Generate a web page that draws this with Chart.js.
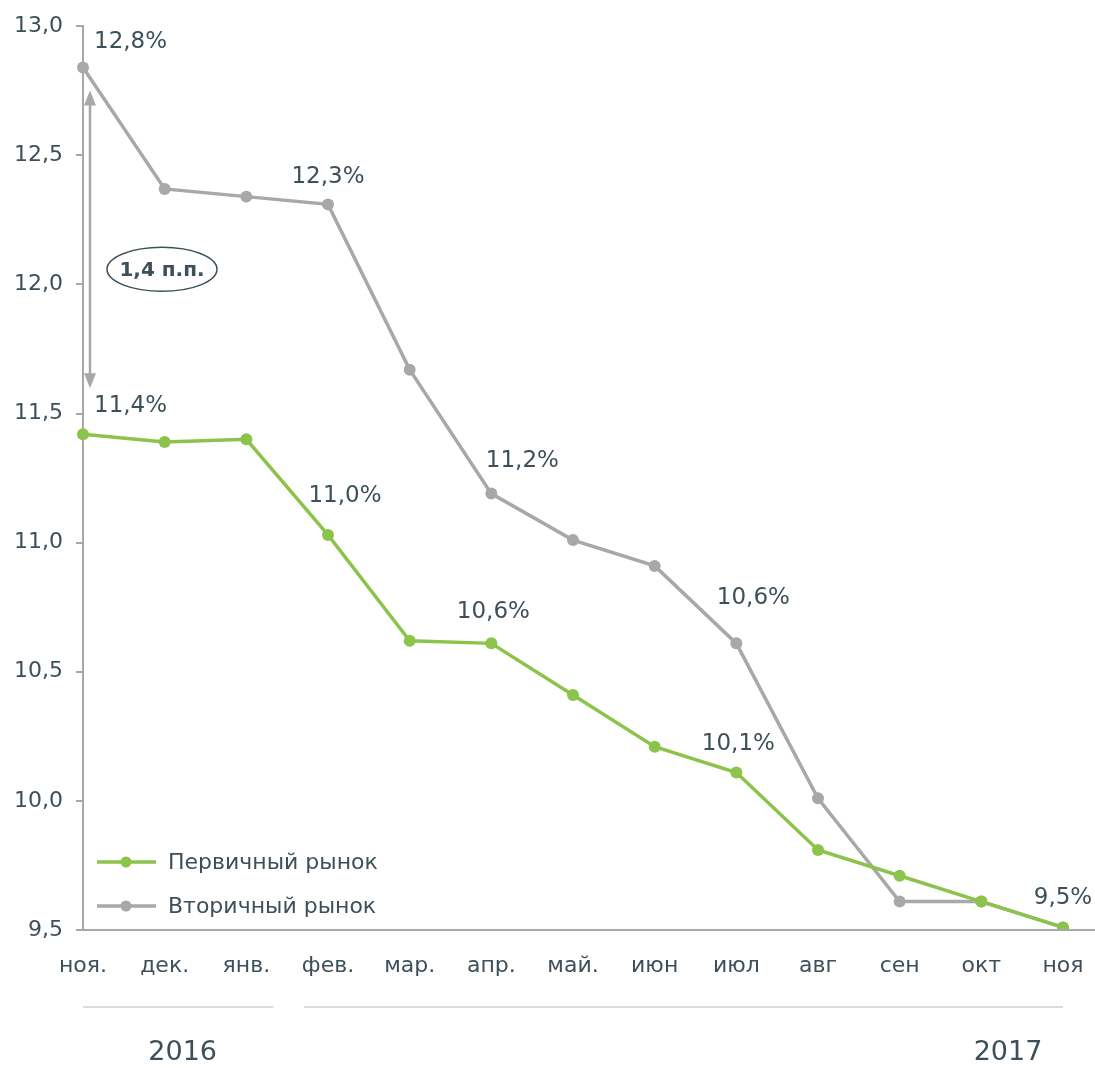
<!DOCTYPE html>
<html>
<head>
<meta charset="utf-8">
<script src="https://cdn.jsdelivr.net/npm/chart.js@4"></script>
<style>
  body { margin: 0; background: #fff; }
  .wrap { width: 1095px; height: 1068px; }
</style>
</head>
<body>
<div class="wrap"><canvas id="rates"></canvas></div>
<script>
const months = ['ноя.', 'дек.', 'янв.', 'фев.', 'мар.', 'апр.', 'май.', 'июн', 'июл', 'авг', 'сен', 'окт', 'ноя'];
const primary = [11.42, 11.39, 11.40, 11.03, 10.62, 10.61, 10.41, 10.21, 10.11, 9.81, 9.71, 9.61, 9.51];
const secondary = [12.84, 12.37, 12.34, 12.31, 11.67, 11.19, 11.01, 10.91, 10.61, 10.01, 9.61, 9.61, 9.51];
const yTicks = [9.5, 10.0, 10.5, 11.0, 11.5, 12.0, 12.5, 13.0];
const primaryLabelled = [0, 3, 5, 8];
const secondaryLabelled = [0, 3, 5, 8, 12];
const years = ['2016', '2017'];
const gapNote = '1,4 п.п.';

const GREEN = '#8cc34b';
const GREY = '#a6a9a8';
const TEXT = '#3d505a';
const FONT = '"DejaVu Sans", Verdana, sans-serif';

const fmt = v => v.toFixed(1).replace('.', ',');

// label offsets from the point, [dx, dy, align]
const greenOffsets = { 0: [11, -28, 'left'], 3: [17, -39, 'center'], 5: [2, -31, 'center'], 8: [2, -28, 'center'] };
const greyOffsets = { 0: [11, -25, 'left'], 3: [0, -27, 'center'], 5: [31, -33, 'center'], 8: [17, -45, 'center'], 12: [0, -29, 'center'] };

const extras = {
  id: 'extras',
  afterDatasetsDraw(chart) {
    const ctx = chart.ctx;
    const area = chart.chartArea;
    const y = chart.scales.y;
    ctx.save();

    // x axis line runs to the edge
    ctx.strokeStyle = GREY;
    ctx.lineWidth = 2;
    ctx.beginPath();
    ctx.moveTo(area.left, area.bottom);
    ctx.lineTo(chart.width, area.bottom);
    ctx.stroke();

    // point labels
    ctx.font = '23px ' + FONT;
    ctx.fillStyle = TEXT;
    ctx.textBaseline = 'middle';
    const put = (dsIndex, idxs, offs, arr) => {
      const pts = chart.getDatasetMeta(dsIndex).data;
      idxs.forEach(i => {
        const o = offs[i];
        ctx.textAlign = o[2];
        ctx.fillText(fmt(arr[i]) + '%', pts[i].x + o[0], pts[i].y + o[1]);
      });
    };
    put(0, primaryLabelled, greenOffsets, primary);
    put(1, secondaryLabelled, greyOffsets, secondary);

    // gap arrow between first points
    const ax = area.left + 7;
    const top = y.getPixelForValue(secondary[0]) + 23;
    const bot = y.getPixelForValue(primary[0]) - 46;
    ctx.strokeStyle = GREY;
    ctx.fillStyle = GREY;
    ctx.lineWidth = 2.5;
    ctx.beginPath();
    ctx.moveTo(ax, top + 10);
    ctx.lineTo(ax, bot - 10);
    ctx.stroke();
    ctx.beginPath();
    ctx.moveTo(ax, top); ctx.lineTo(ax - 6, top + 15); ctx.lineTo(ax + 6, top + 15); ctx.closePath();
    ctx.fill();
    ctx.beginPath();
    ctx.moveTo(ax, bot); ctx.lineTo(ax - 6, bot - 15); ctx.lineTo(ax + 6, bot - 15); ctx.closePath();
    ctx.fill();

    // ellipse note
    const ex = area.left + 79, ey = (top + bot) / 2 + 30;
    ctx.strokeStyle = TEXT;
    ctx.lineWidth = 1.5;
    ctx.fillStyle = '#fff';
    ctx.beginPath();
    ctx.ellipse(ex, ey, 55, 22, 0, 0, Math.PI * 2);
    ctx.fill();
    ctx.stroke();
    ctx.fillStyle = TEXT;
    ctx.font = 'bold 20px ' + FONT;
    ctx.textAlign = 'center';
    ctx.fillText(gapNote, ex, ey + 1);

    // legend inside plot
    const legend = [[GREEN, chart.data.datasets[0].label], [GREY, chart.data.datasets[1].label]];
    legend.forEach((l, k) => {
      const ly = 862 + k * 44;
      ctx.strokeStyle = l[0];
      ctx.fillStyle = l[0];
      ctx.lineWidth = 3.5;
      ctx.beginPath();
      ctx.moveTo(97, ly); ctx.lineTo(156, ly);
      ctx.stroke();
      ctx.beginPath();
      ctx.arc(126, ly, 5.5, 0, Math.PI * 2);
      ctx.fill();
      ctx.fillStyle = TEXT;
      ctx.font = '22px ' + FONT;
      ctx.textAlign = 'left';
      ctx.fillText(l[1], 168, ly + 1);
    });

    // year brackets
    const x = chart.scales.x;
    ctx.strokeStyle = '#dcdcdc';
    ctx.lineWidth = 2;
    ctx.beginPath();
    ctx.moveTo(x.getPixelForValue(0), 1007); ctx.lineTo(x.getPixelForValue(2) + 27, 1007);
    ctx.moveTo(x.getPixelForValue(3) - 24, 1007); ctx.lineTo(x.getPixelForValue(12), 1007);
    ctx.stroke();
    ctx.fillStyle = TEXT;
    ctx.font = '27px ' + FONT;
    ctx.textAlign = 'center';
    ctx.fillText(years[0], x.getPixelForValue(1) + 18, 1053);
    ctx.fillText(years[1], x.getPixelForValue(12) - 55, 1053);

    ctx.restore();
  }
};

new Chart(document.getElementById('rates'), {
  type: 'line',
  data: {
    labels: months,
    datasets: [
      {
        label: 'Первичный рынок',
        data: primary,
        borderColor: GREEN,
        backgroundColor: GREEN,
        borderWidth: 3.5,
        pointRadius: 6,
        pointBorderWidth: 0,
        tension: 0
      },
      {
        label: 'Вторичный рынок',
        data: secondary,
        borderColor: GREY,
        backgroundColor: GREY,
        borderWidth: 3.5,
        pointRadius: 6,
        pointBorderWidth: 0,
        tension: 0
      }
    ]
  },
  options: {
    responsive: true,
    maintainAspectRatio: false,
    animation: false,
    layout: { padding: { top: 23, right: 32, bottom: 0, left: 0 } },
    plugins: {
      legend: { display: false },
      tooltip: { enabled: false }
    },
    scales: {
      x: {
        offset: false,
        grid: { display: false, drawTicks: false },
        border: { display: false },
        ticks: {
          color: TEXT,
          font: { family: FONT, size: 22 },
          padding: 23,
          maxRotation: 0,
          autoSkip: false
        },
        afterFit(scale) {
          scale.height = 138;
          scale.paddingLeft = 0;
          scale.paddingRight = 0;
        }
      },
      y: {
        min: yTicks[0],
        max: yTicks[yTicks.length - 1],
        grid: { drawOnChartArea: false, drawTicks: true, tickLength: 7, color: GREY, lineWidth: 2 },
        border: { display: true, color: GREY, width: 2 },
        afterBuildTicks(scale) { scale.ticks = yTicks.map(v => ({ value: v })); },
        ticks: {
          color: TEXT,
          font: { family: FONT, size: 22 },
          padding: 13,
          callback: v => fmt(v)
        },
        afterFit(scale) { scale.width = 83; }
      }
    }
  },
  plugins: [extras]
});
</script>
</body>
</html>
